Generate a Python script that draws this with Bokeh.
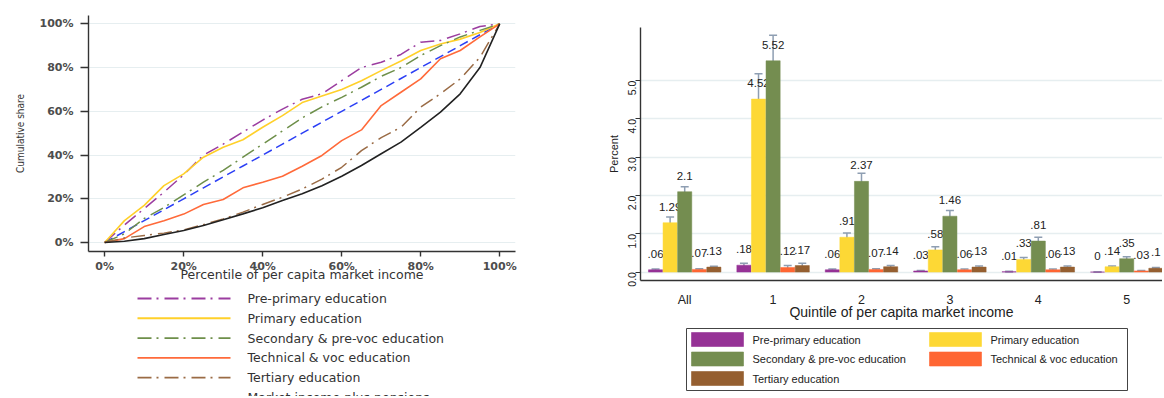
import math
from bokeh.plotting import figure
from bokeh.layouts import row, column
from bokeh.models import (Range1d, FixedTicker, PrintfTickFormatter,
                          ColumnDataSource, Whisker, TeeHead)
from bokeh.core.properties import value
from bokeh.embed import file_html
from bokeh.resources import INLINE

# ---------------- Left panel data: concentration curves ----------------
percentile = [0, 5, 10, 15, 20, 25, 30, 35, 40, 45, 50, 55, 60, 65, 70, 75, 80, 85, 90, 95, 100]
equality_line = [0, 5, 10, 15, 20, 25, 30, 35, 40, 45, 50, 55, 60, 65, 70, 75, 80, 85, 90, 95, 100]
pre_primary_curve = [0, 8, 15.5, 23, 31, 40, 45, 50.5, 56, 61, 65.5, 68, 74, 80, 82.4, 86, 91.6, 92.4, 95.4, 98.8, 100]
primary_curve = [0, 10, 17, 26, 31.4, 39, 43.6, 47, 52.7, 58, 64, 67, 70, 74, 78.6, 83, 87.8, 90.8, 93, 96, 100]
secondary_curve = [0, 4, 11, 16, 21.8, 27.6, 33, 39, 45, 51, 57, 62, 66.4, 71, 76, 80, 85.5, 90, 94, 97, 100]
technical_curve = [0, 1.8, 7.3, 10, 13, 17.4, 19.7, 25, 27.6, 30.3, 34.9, 39.8, 46.6, 51.5, 62.6, 68.7, 74.8, 84, 87.8, 94, 100]
tertiary_curve = [0, 2.1, 3.2, 4.3, 5.8, 8.2, 10.8, 13.9, 17.4, 20.7, 24.5, 29, 34.4, 42, 48, 52.7, 61.9, 68, 74.8, 84.7, 100]
market_income_curve = [0, 0.6, 1.8, 3.7, 5.5, 7.8, 10.4, 13.1, 15.9, 19.2, 22.3, 26, 30.3, 35.2, 40.6, 45.9, 52.7, 59.6, 68, 80, 100]
pct_ticks = [0, 20, 40, 60, 80, 100]
curve_names = ["Pre-primary education", "Primary education", "Secondary & pre-voc education",
               "Technical & voc education", "Tertiary education", "Market income plus pensions"]

# ---------------- Right panel data: bars by quintile ----------------
quintiles = ["All", "1", "2", "3", "4", "5"]
series_names = ["Pre-primary education", "Primary education", "Secondary & pre-voc education",
                "Technical & voc education", "Tertiary education"]
pre_primary_pct = [0.06, 0.18, 0.06, 0.03, 0.01, 0.0]
primary_pct = [1.29, 4.52, 0.91, 0.58, 0.33, 0.14]
secondary_pct = [2.1, 5.52, 2.37, 1.46, 0.81, 0.35]
technical_pct = [0.07, 0.12, 0.07, 0.06, 0.06, 0.03]
tertiary_pct = [0.13, 0.17, 0.14, 0.13, 0.13, 0.1]
pre_primary_lo = [0.04, 0.13, 0.04, 0.02, 0.0, 0.0]
pre_primary_hi = [0.08, 0.23, 0.08, 0.04, 0.02, 0.0]
primary_lo = [1.16, 3.86, 0.80, 0.51, 0.28, 0.12]
primary_hi = [1.44, 5.18, 1.02, 0.66, 0.38, 0.16]
secondary_lo = [1.95, 4.86, 2.14, 1.31, 0.74, 0.30]
secondary_hi = [2.23, 6.19, 2.58, 1.61, 0.91, 0.40]
technical_lo = [0.05, 0.08, 0.05, 0.04, 0.04, 0.02]
technical_hi = [0.09, 0.17, 0.09, 0.08, 0.08, 0.04]
tertiary_lo = [0.11, 0.12, 0.11, 0.10, 0.10, 0.08]
tertiary_hi = [0.15, 0.23, 0.17, 0.16, 0.16, 0.12]
pct_axis_ticks = [0, 1, 2, 3, 4, 5]

# ---------------- Styles ----------------
LEFT_FONT = "DejaVu Sans"
RIGHT_FONT = "Liberation Sans"
GRID = "#E6EEF0"
AXIS = "#333333"

curves = [pre_primary_curve, primary_curve, secondary_curve, technical_curve,
          tertiary_curve, market_income_curve]
curve_colors = ["#9B3DA0", "#FFD02A", "#6E8F4A", "#FF6A3A", "#9A6B45", "#222222"]
curve_dashes = ["14 5 2 6", "solid", "14 5 2 6", "solid", "14 5 2 6", "solid"]
curve_widths = [1.5, 1.6, 1.5, 1.6, 1.5, 1.6]
bar_colors = ["#963296", "#FDD835", "#748D50", "#FF6633", "#955F30"]

# Frame geometry (page pixels)
L_FRAME = (88, 515)
R_FRAME = (640, 1162)
LW, RW = 590, 572

# ---------------- Left figure ----------------
p1 = figure(width=LW, height=286, x_range=Range1d(-4.1, 104), y_range=Range1d(-4.1, 103.8),
            output_backend="svg", toolbar_location=None,
            min_border_left=L_FRAME[0], min_border_right=LW - L_FRAME[1],
            min_border_top=15, min_border_bottom=35)
p1.outline_line_color = None
p1.xgrid.grid_line_color = None
p1.ygrid.grid_line_color = GRID
p1.ygrid.grid_line_width = 1.2
for ax in (p1.xaxis[0], p1.yaxis[0]):
    ax.ticker = FixedTicker(ticks=pct_ticks)
    ax.formatter = PrintfTickFormatter(format="%d%%")
    ax.axis_line_color = AXIS
    ax.axis_line_width = 1.4
    ax.major_tick_line_color = AXIS
    ax.major_tick_line_width = 1.4
    ax.minor_tick_line_color = None
    ax.major_tick_in = 0
    ax.major_label_text_font = LEFT_FONT
    ax.major_label_text_font_size = "11px"
    ax.major_label_text_font_style = "bold"
    ax.major_label_text_color = "#4d4d4d"
    ax.axis_label_text_font_style = "normal"
p1.xaxis.major_tick_out = 5
p1.xaxis.major_label_standoff = 3
p1.xaxis.axis_label = "Percentile of per capita market income"
p1.xaxis.axis_label_text_font = LEFT_FONT
p1.xaxis.axis_label_text_font_size = "12.5px"
p1.xaxis.axis_label_text_color = "#333333"
p1.xaxis.axis_label_standoff = -9
p1.yaxis.major_tick_out = 8
p1.yaxis.major_label_standoff = 7
p1.yaxis.axis_label = "Cumulative share"
p1.yaxis.axis_label_text_font = "DejaVu Sans Condensed, Liberation Sans"
p1.yaxis.axis_label_text_font_size = "10px"
p1.yaxis.axis_label_text_color = "#333333"
p1.yaxis.axis_label_standoff = 11

p1.line(percentile, equality_line, line_color="#2B3FF5", line_dash="9 5", line_width=1.5)
for ys, col, dash, lw in zip(curves, curve_colors, curve_dashes, curve_widths):
    p1.line(percentile, ys, line_color=col, line_dash=dash, line_width=lw)

# Left legend strip: frame aligned with the plot above, x in page pixels, y downwards
LEG1_H = 110
leg1 = figure(width=LW, height=LEG1_H, x_range=Range1d(*L_FRAME), y_range=Range1d(LEG1_H, 0),
              output_backend="svg", toolbar_location=None,
              min_border_left=L_FRAME[0], min_border_right=LW - L_FRAME[1],
              min_border_top=0, min_border_bottom=0)
leg1.axis.visible = False
leg1.grid.visible = False
leg1.outline_line_color = None
for i, (col, dash, lw) in enumerate(zip(curve_colors, curve_dashes, curve_widths)):
    yy = 12 + 19.8 * i
    leg1.line([137, 230], [yy, yy], line_color=col, line_dash=dash, line_width=lw + 0.3)
leg1.text(x=[247] * len(curve_names), y=[12 + 19.8 * i for i in range(len(curve_names))],
          text=curve_names, text_baseline="middle", text_align="left",
          text_font=value(LEFT_FONT), text_font_size="12.5px", text_color="#333333")

# ---------------- Right figure ----------------
p2 = figure(width=RW, height=322, x_range=Range1d(-0.5, 5.405), y_range=Range1d(-0.22, 6.39),
            output_backend="svg", toolbar_location=None,
            min_border_left=R_FRAME[0] - LW, min_border_right=LW + RW - R_FRAME[1],
            min_border_top=27, min_border_bottom=35)
p2.outline_line_color = None
p2.xgrid.grid_line_color = None
p2.ygrid.grid_line_color = GRID
p2.ygrid.grid_line_width = 1.5
p2.yaxis.ticker = FixedTicker(ticks=pct_axis_ticks)
p2.yaxis.formatter = PrintfTickFormatter(format="%.1f")
p2.yaxis.major_label_orientation = math.pi / 2
p2.xaxis.ticker = FixedTicker(ticks=list(range(len(quintiles))))
p2.xaxis.major_label_overrides = {i: q for i, q in enumerate(quintiles)}
for ax in (p2.xaxis[0], p2.yaxis[0]):
    ax.axis_line_color = AXIS
    ax.axis_line_width = 1.4
    ax.major_tick_line_color = AXIS
    ax.minor_tick_line_color = None
    ax.major_tick_in = 0
    ax.major_label_text_font = RIGHT_FONT
    ax.major_label_text_color = "#222222"
    ax.axis_label_text_font = RIGHT_FONT
    ax.axis_label_text_font_style = "normal"
    ax.axis_label_text_color = "#222222"
p2.xaxis.major_tick_out = 0
p2.xaxis.major_label_text_font_size = "12.5px"
p2.xaxis.major_label_standoff = 12
p2.xaxis.axis_label = "Quintile of per capita market income"
p2.xaxis.axis_label_text_font_size = "14px"
p2.xaxis.axis_label_standoff = -6
p2.yaxis.major_tick_out = 5
p2.yaxis.major_label_text_font_size = "10.5px"
p2.yaxis.major_label_standoff = 3
p2.yaxis.axis_label = "Percent"
p2.yaxis.axis_label_text_font_size = "11px"
p2.yaxis.axis_label_standoff = 2

values = [pre_primary_pct, primary_pct, secondary_pct, technical_pct, tertiary_pct]
lows = [pre_primary_lo, primary_lo, secondary_lo, technical_lo, tertiary_lo]
highs = [pre_primary_hi, primary_hi, secondary_hi, technical_hi, tertiary_hi]
bar_w = 0.165


def stata_label(v):
    s = f"{v:g}"
    if s.startswith("0."):
        s = s[1:]
    return s


for j, (vals, lo, hi, col) in enumerate(zip(values, lows, highs, bar_colors)):
    xs = [i + (j - 2) * bar_w for i in range(len(quintiles))]
    src = ColumnDataSource(dict(x=xs, top=vals, lo=lo, hi=hi,
                                lab=[stata_label(v) for v in vals]))
    p2.vbar(x="x", top="top", bottom=0, width=bar_w * 0.97, source=src,
            fill_color=col, line_color=col, line_width=0.5)
    wh = Whisker(source=src, base="x", upper="hi", lower="lo",
                 line_color="#8E9EB2", line_width=1.5,
                 upper_head=TeeHead(size=8, line_color="#8E9EB2", line_width=1.5),
                 lower_head=TeeHead(size=8, line_color="#8E9EB2", line_width=1.5))
    p2.add_layout(wh)
    p2.text(x="x", y="top", text="lab", source=src, text_align="center",
            text_baseline="middle", y_offset=-16, text_font_size="11.5px",
            text_color="#222222", text_font=value(RIGHT_FONT))

# Right legend strip: frame aligned with the bar chart, x in page pixels, y downwards
LEG2_H = 74
leg2 = figure(width=RW, height=LEG2_H, x_range=Range1d(*R_FRAME), y_range=Range1d(LEG2_H, 0),
              output_backend="svg", toolbar_location=None,
              min_border_left=R_FRAME[0] - LW, min_border_right=LW + RW - R_FRAME[1],
              min_border_top=0, min_border_bottom=0)
leg2.axis.visible = False
leg2.grid.visible = False
leg2.outline_line_color = None
leg2.quad(left=[686], right=[1127], top=[6], bottom=[68], fill_color="white",
          line_color="#444444", line_width=1)
sw_left = [691 + 238 * (k % 2) for k in range(len(series_names))]
sw_y = [17 + 19.5 * (k // 2) for k in range(len(series_names))]
leg2.quad(left=sw_left, right=[v + 52 for v in sw_left],
          top=[v - 7 for v in sw_y], bottom=[v + 7 for v in sw_y],
          fill_color=bar_colors, line_color=bar_colors, line_alpha=0.6)
leg2.text(x=[v + 61 for v in sw_left], y=sw_y, text=series_names,
          text_baseline="middle", text_align="left", text_font=value(RIGHT_FONT),
          text_font_size="11px", text_color="#222222")

layout = row(column(p1, leg1), column(p2, leg2))
open("out.html", "w").write(file_html(layout, INLINE))
